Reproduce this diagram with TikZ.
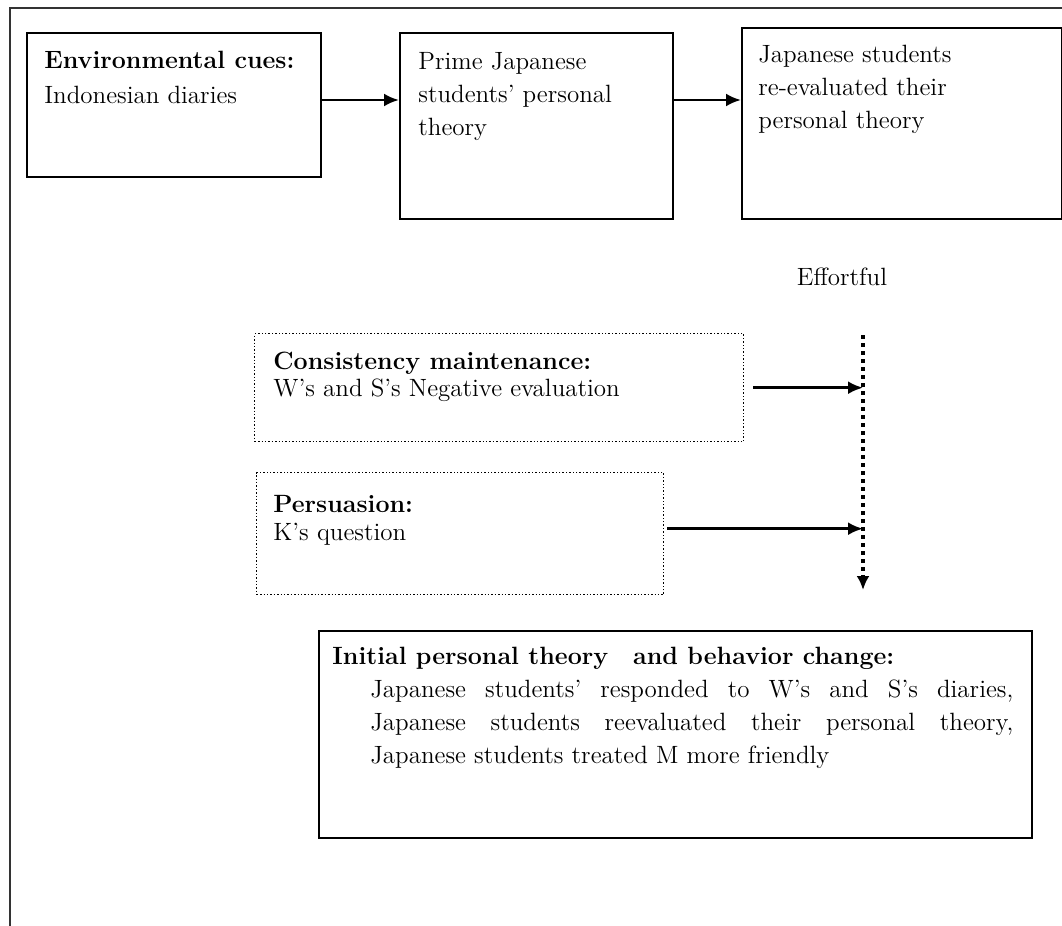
\documentclass[tikz,border=0pt]{standalone}
\usepackage{tikz}
\usetikzlibrary{arrows.meta}

\tikzset{
  frame/.style={draw, line width=1pt, anchor=north west, inner sep=0pt},
  dotframe/.style={draw, densely dotted, line width=0.7pt, anchor=north west, inner sep=0pt},
  txt/.style={anchor=north west, inner sep=0pt, align=left, font=\fontsize{12.5}{16.5}\selectfont},
  link/.style={-{Latex[length=7.5pt,width=6.5pt]}, line width=1.3pt},
  effort/.style={line width=2pt, dash pattern=on 2pt off 2pt, -{Latex[length=7pt,width=6.5pt]}}
}

\begin{document}
\begin{tikzpicture}[x=0.5pt, y=-0.5pt]
  \useasboundingbox (0,0) rectangle (1062,926);
  \draw[line width=0.8pt, black!80] (10,926) -- (10,8) -- (1062,8);

  \node[frame, minimum width=147pt, minimum height=72pt] (env) at (26,32) {};
  \node[frame, minimum width=136.5pt, minimum height=93pt] (prime) at (399,32) {};
  \node[frame, minimum width=160pt, minimum height=95.5pt] (reeval) at (741,27) {};

  \node[txt, font=\fontsize{12.5}{17.5}\selectfont] (envtext) at (44,51) {\textbf{Environmental cues:}\\Indonesian diaries};
  \node[txt] (primetext) at (418,52) {Prime Japanese\\students' personal\\theory};
  \node[txt] (reevaltext) at (758,45) {Japanese students\\re-evaluated their\\personal theory};

  \coordinate (a1) at ([yshift=2.5pt]env.east);
  \coordinate (a2) at (prime.east |- a1);
  \draw[link] (a1) -- (a1 -| prime.west);
  \draw[link] (a2) -- (a2 -| reeval.west);

  \node[txt, anchor=center] (effortful) at (842,277) {Effortful};

  \node[dotframe, minimum width=244.5pt, minimum height=54pt] (consist) at (254,333) {};
  \node[dotframe, minimum width=203.5pt, minimum height=61pt] (persu) at (256,472) {};
  \node[txt, font=\fontsize{12.5}{13.5}\selectfont] (consisttext) at (273,352) {\textbf{Consistency maintenance:}\\W's and S's Negative evaluation};
  \node[txt, font=\fontsize{12.5}{14}\selectfont] (persutext) at (273,495) {\textbf{Persuasion:}\\K's question};

  \coordinate (etop) at (863,335);
  \coordinate (ebot) at (863,590);
  \draw[effort] (etop) -- (ebot);
  \draw[link] ([xshift=4.5pt]consist.east) -- (consist.east -| etop);
  \coordinate (a3) at ([xshift=1.5pt,yshift=2.5pt]persu.east);
  \draw[link] (a3) -- (a3 -| etop);

  \node[frame, minimum width=356.5pt, minimum height=103.5pt] (change) at (318,630) {};
  \node[txt] (changetext) at (332,647) {\textbf{Initial personal theory\quad and behavior change:}\\
    \hspace*{19pt}\makebox[321.5pt][s]{Japanese students' responded to W's and S's diaries,}\\
    \hspace*{19pt}\makebox[321.5pt][s]{Japanese students reevaluated their personal theory,}\\
    \hspace*{19pt}Japanese students treated M more friendly};
\end{tikzpicture}
\end{document}
